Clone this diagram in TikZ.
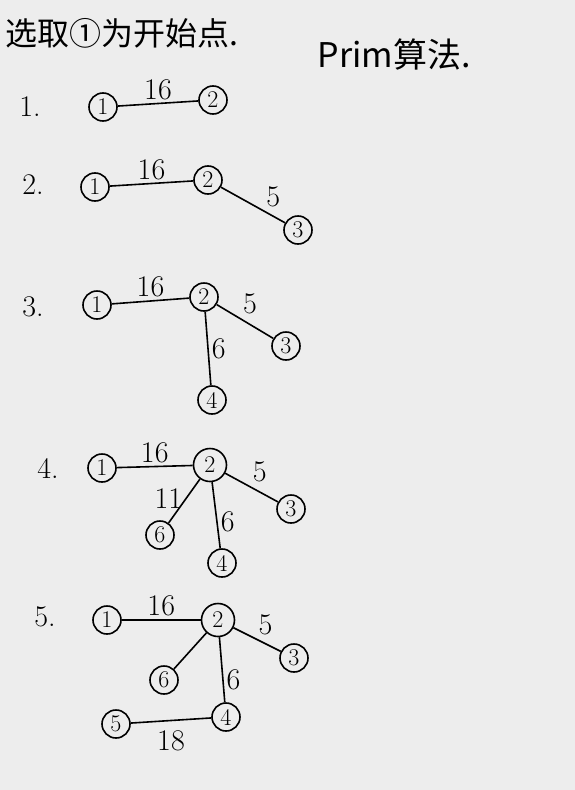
\documentclass[tikz,border=0pt]{standalone}
\usepackage{fontspec}
\newfontfamily\cjk{Noto Sans CJK SC}
\usetikzlibrary{positioning}

\begin{document}
\begin{tikzpicture}[x=1pt,y=-1pt,
		vertex/.style={circle,draw=black,line width=1.6pt,inner sep=0pt,minimum size=28pt,font=\fontsize{24}{24}\selectfont},
		bigvertex/.style={vertex,minimum size=33pt},
		weight/.style={font=\fontsize{30}{30}\selectfont,inner sep=3pt},
		stepno/.style={font=\fontsize{30}{30}\selectfont},
		every edge/.style={draw,line width=1.6pt}]

	\fill[gray!14] (0,0) rectangle (575,790);
	\useasboundingbox (0,0) rectangle (575,790);

	\node[font=\cjk\fontsize{32}{32}\selectfont,anchor=west] (title) at (2,33) {选取①为开始点.};
	\node[font=\cjk\fontsize{34}{34}\selectfont,anchor=west] (algo) at (314,55) {Prim算法.};

	% step 1
	\node[stepno] (s1) at (30,107) {1.};
	\node[vertex] (a1) at (103,107) {1};
	\node[vertex] (a2) at (213,100) {2}
		edge node[weight,above] {16} (a1);

	% step 2
	\node[stepno] (s2) at (33,185) {2.};
	\node[vertex] (b1) at (95,187) {1};
	\node[vertex] (b2) at (208,180) {2}
		edge node[weight,above] {16} (b1);
	\node[vertex] (b3) at (298,230) {3}
		edge node[weight,above right,pos=0.35] {5} (b2);

	% step 3
	\node[stepno] (s3) at (33,307) {3.};
	\node[vertex] (c1) at (97,305) {1};
	\node[vertex] (c2) at (204,297) {2}
		edge node[weight,above] {16} (c1);
	\node[vertex] (c3) at (286,346) {3}
		edge node[weight,above right,pos=0.6] {5} (c2);
	\node[vertex] (c4) at (212,400) {4}
		edge node[weight,right,pos=0.5] {6} (c2);

	% step 4
	\node[stepno] (s4) at (48,468) {4.};
	\node[vertex] (d1) at (102,468) {1};
	\node[bigvertex] (d2) at (210,465) {2}
		edge node[weight,above] {16} (d1);
	\node[vertex] (d3) at (291,509) {3}
		edge node[weight,above right,pos=0.55] {5} (d2);
	\node[vertex] (d6) at (160,535) {6}
		edge node[weight,left,pos=0.55] {11} (d2);
	\node[vertex] (d4) at (222,563) {4}
		edge node[weight,right,pos=0.4] {6} (d2);

	% step 5
	\node[stepno] (s5) at (45,617) {5.};
	\node[vertex] (e1) at (107,620) {1};
	\node[bigvertex] (e2) at (218,620) {2}
		edge node[weight,above] {16} (e1);
	\node[vertex] (e3) at (294,658) {3}
		edge node[weight,above right,pos=0.55] {5} (e2);
	\node[vertex] (e6) at (164,680) {6}
		edge (e2);
	\node[vertex] (e4) at (226,717) {4}
		edge node[weight,right,pos=0.35] {6} (e2);
	\node[vertex] (e5) at (116,724) {5}
		edge node[weight,below,inner sep=9pt] {18} (e4);
\end{tikzpicture}
\end{document}
